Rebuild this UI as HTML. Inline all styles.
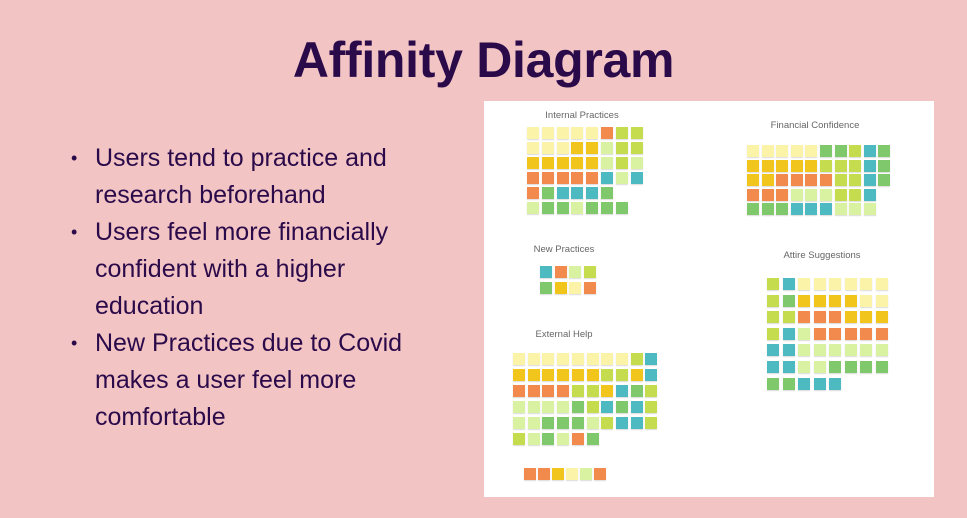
<!DOCTYPE html>
<html><head><meta charset="utf-8"><style>
html,body{margin:0;padding:0}
body{width:967px;height:518px;background:#f2c4c4;position:relative;overflow:hidden;font-family:"Liberation Sans",Arial,sans-serif}
#title{position:absolute;left:0;width:967px;top:31px;text-align:center;font-weight:bold;font-size:50px;color:#2b0a4a;letter-spacing:-0.3px}
.b{position:absolute;left:95px;font-size:25px;color:#2b0a4a;line-height:37px;white-space:nowrap}
.dot{position:absolute;left:71px;font-size:18px;color:#2b0a4a}
#panel{position:absolute;left:484px;top:101px;width:450px;height:396px;background:#fff}
.lbl{position:absolute;font-size:9.5px;color:#666;transform:translateX(-50%);white-space:nowrap}
.n{position:absolute;width:12px;height:12px;box-shadow:0 1px 1px rgba(0,0,0,.15)}
</style></head><body>
<div id="title">Affinity Diagram</div>
<div>
<div class="dot" style="top:148px">•</div>
<div class="b" style="top:140px">Users tend to practice and<br>research beforehand</div>
<div class="dot" style="top:222px">•</div>
<div class="b" style="top:214px">Users feel more financially<br>confident with a higher<br>education</div>
<div class="dot" style="top:333px">•</div>
<div class="b" style="top:325px">New Practices due to Covid<br>makes a user feel more<br>comfortable</div>
</div>
<div id="panel"></div>
<script>
const colors={Y:'#fbf3a8',G:'#f2c51c',O:'#f28a4e',L:'#d9f2a2',M:'#c5dc4e',R:'#7fc86c',T:'#4dbac2'};
const clusters=[
 {name:'Internal Practices',lx:98,ly:9,x:43,y:26,dx:14.8,dy:15,rows:['YYYYYOMM','YYYGGLMM','GGGGGLML','OOOOOTLT','ORTTTR','LRRLRRR']},
 {name:'Financial Confidence',lx:331,ly:19,x:263,y:44,dx:14.6,dy:14.5,rows:['YYYYYRRMTR','GGGGGMMMTR','GGOOOOMMTR','OOOLLLMMT','RRRTTTLLL']},
 {name:'New Practices',lx:80,ly:143,x:56,y:165,dx:14.5,dy:16,rows:['TOLM','RGYO']},
 {name:'Attire Suggestions',lx:338,ly:149,x:283,y:177,dx:15.5,dy:16.6,rows:['MTYYYYYY','MRGGGGYY','MMOOOGGG','MTLOOOOO','TTLLLLLL','TTLLRRRR','RRTTT']},
 {name:'External Help',lx:80,ly:228,x:29,y:252,dx:14.7,dy:16,rows:['YYYYYYYYMT','GGGGGGMMGT','OOOOMMGTRM','LLLLRMTRTM','LLRRRLMTTM','MLRLOR']},
 {name:'',x:40,y:367,dx:14,dy:16,rows:['OOGYLO']}
];
const panel=document.getElementById('panel');
clusters.forEach(c=>{
 if(c.name){
  const l=document.createElement('div');
  l.className='lbl';l.textContent=c.name;
  l.style.left=c.lx+'px';l.style.top=c.ly+'px';
  
  
  panel.appendChild(l);
 }
 c.rows.forEach((r,ri)=>{[...r].forEach((ch,ci)=>{
  const n=document.createElement('div');
  n.className='n';n.style.background=colors[ch];
  n.style.left=(c.x+ci*c.dx)+'px';n.style.top=(c.y+ri*c.dy)+'px';
  
  
  panel.appendChild(n);
 });});
});
</script>
</body></html>
